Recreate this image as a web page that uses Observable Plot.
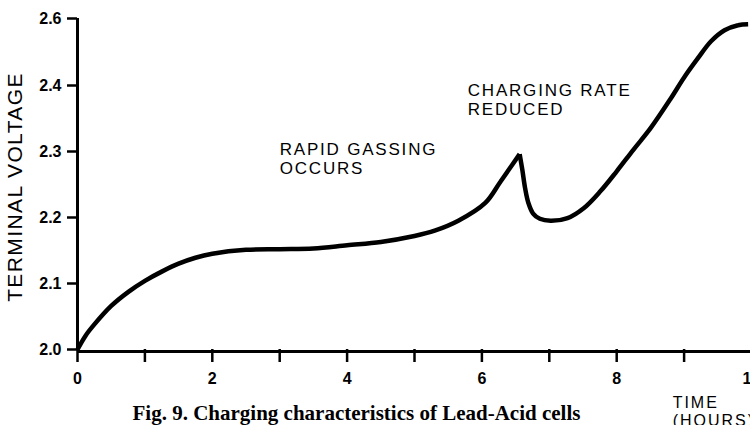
<!DOCTYPE html>
<html>
<head>
<meta charset="utf-8">
<script src="https://cdn.jsdelivr.net/npm/d3@7"></script>
<script src="https://cdn.jsdelivr.net/npm/@observablehq/plot@0.6"></script>
<style>
  html, body { margin: 0; padding: 0; background: #fff; overflow: hidden; width: 750px; height: 425px; }
  #chart { width: 750px; height: 425px; overflow: hidden; }
  #chart svg { display: block; max-width: none !important; width: 800px !important; height: 425px !important; }
</style>
</head>
<body>
<div id="chart"></div>
<script>
// Charging curve (hours, volts); segment splits the curve at the sharp peak
const hours   = [0, 0.12, 0.25, 0.5, 0.75, 1.0, 1.25, 1.5, 1.75, 2.0, 2.5, 3.0, 3.5, 4.0, 4.5, 5.0, 5.3, 5.65, 6.05, 6.28, 6.56,
                 6.56, 6.6, 6.64, 6.69, 6.76, 6.86, 7.02, 7.27, 7.51, 7.76, 8.0, 8.25, 8.5, 8.8, 9.0, 9.2, 9.4, 9.6, 9.8, 9.95];
const voltage = [2.000, 2.021, 2.038, 2.066, 2.087, 2.104, 2.118, 2.130, 2.139, 2.145, 2.151, 2.152, 2.153, 2.158, 2.163, 2.172, 2.180, 2.195, 2.222, 2.255, 2.296,
                 2.296, 2.272, 2.245, 2.222, 2.206, 2.198, 2.195, 2.199, 2.214, 2.240, 2.270, 2.303, 2.335, 2.380, 2.424, 2.480, 2.532, 2.565, 2.580, 2.583];
const segment = ["rise","rise","rise","rise","rise","rise","rise","rise","rise","rise","rise","rise","rise","rise","rise","rise","rise","rise","rise","rise","rise",
                 "after","after","after","after","after","after","after","after","after","after","after","after","after","after","after","after","after","after","after","after"];

// Axes
const xTicks = [0, 1, 2, 3, 4, 5, 6, 7, 8, 9, 10];
const yTicks = [2.0, 2.1, 2.2, 2.3, 2.4, 2.6];
const yBreaks = [2.0, 2.4, 2.6];   // the scale is compressed above 2.4

// Annotations
const noteText  = ["RAPID GASSING\nOCCURS", "CHARGING RATE\nREDUCED"];
const noteHours = [3.0, 5.79];
const noteVolts = [2.289, 2.379];

const yLabel = "TERMINAL VOLTAGE";
const xLabel = "TIME\n(HOURS)";
const xLabelHours = 8.83;
const caption = "Fig. 9. Charging characteristics of Lead-Acid cells";

const data = hours.map((h, i) => ({h, v: voltage[i], s: segment[i]}));
const notes = noteText.map((t, i) => ({t, h: noteHours[i], v: noteVolts[i]}));

const chart = Plot.plot({
  width: 800,
  height: 425,
  marginLeft: 77,
  marginRight: 49,
  marginTop: 18,
  marginBottom: 76,
  x: {domain: [0, 10]},
  y: {type: "linear", domain: yBreaks, range: [349, 85, 18]},
  style: {fontFamily: "'Liberation Sans', Arial, Helvetica, sans-serif", color: "#000", background: "#fff", overflow: "visible"},
  marks: [
    Plot.axisY(yTicks, {tickSize: 10, tickPadding: 6, strokeWidth: 2.5, fontSize: 16, fontWeight: "bold",
                        tickFormat: d => d.toFixed(1), label: null}),
    Plot.axisX(xTicks, {tickSize: 13, tickPadding: 10, strokeWidth: 2.5, fontSize: 16, fontWeight: "bold",
                        tickFormat: d => d % 2 === 0 ? String(d) : "", label: null}),
    Plot.ruleX([0], {y1: yBreaks[0], y2: yBreaks[yBreaks.length - 1], strokeWidth: 3}),
    Plot.ruleY([yBreaks[0]], {strokeWidth: 3, dy: 2}),
    Plot.line(data, {x: "h", y: "v", z: "s", curve: "catmull-rom", stroke: "#000", strokeWidth: 4.5,
                     strokeLinecap: "butt", strokeLinejoin: "miter"}),
    Plot.text(notes, {x: "h", y: "v", text: "t", textAnchor: "start", lineAnchor: "middle",
                      fontSize: 17, lineHeight: 1.1, fill: "#000"}),
    Plot.text([yLabel], {frameAnchor: "left", rotate: -90, dx: -62, dy: 3, fontSize: 21,
                         textAnchor: "middle", lineAnchor: "middle", fill: "#000"}),
    Plot.text([xLabel], {x: xLabelHours, frameAnchor: "bottom", dy: 46, textAnchor: "start", lineAnchor: "top",
                         fontSize: 16, lineHeight: 1.12, fill: "#000"}),
    Plot.text([caption], {frameAnchor: "bottom-left", dx: 55, dy: 64, textAnchor: "start", lineAnchor: "middle",
                          fontSize: 21, fontWeight: "bold", fontFamily: "'Liberation Serif', 'Times New Roman', serif",
                          fill: "#000"})
  ]
});
// letter spacing of the text marks, in mark order: notes, y label, x label, caption
const spacing = ["1.8px", "1.4px", "2px", "0px"];
d3.select(chart).selectAll('g[aria-label="text"]').each(function(_, i) {
  d3.select(this).style("letter-spacing", spacing[i] || "0px");
});
document.getElementById("chart").appendChild(chart);
</script>
</body>
</html>
